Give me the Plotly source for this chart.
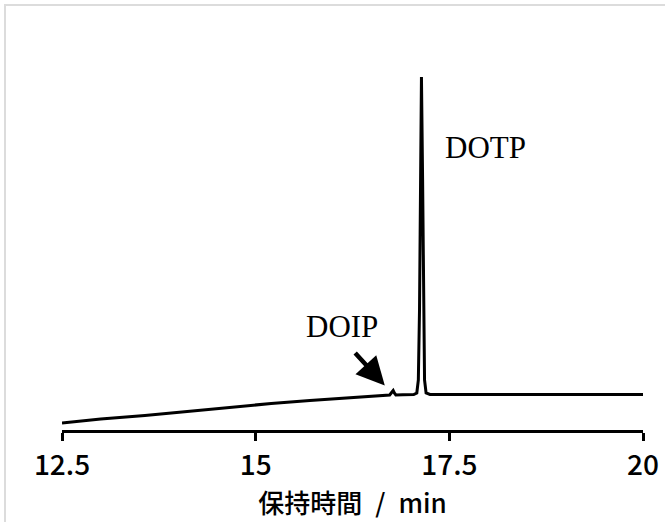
import plotly.graph_objects as go

# Chromatogram (retention time in min, relative signal)
rt = [12.5, 13.0, 13.57, 14.1, 14.66, 15.2, 15.70, 16.2, 16.5, 16.73, 16.76, 16.775, 16.79, 16.81,
      16.9, 17.04, 17.08, 17.10, 17.115, 17.125, 17.14, 17.155, 17.165, 17.18, 17.20, 17.25,
      18.0, 19.0, 20.0]
signal = [7.0, 11.0, 14.5, 18.5, 22.8, 26.5, 29.5, 32.3, 33.8, 35.0, 38.0, 39.5, 37.0, 35.0,
          35.2, 35.5, 37.0, 50.0, 120.0, 250.0, 353.0, 250.0, 120.0, 50.0, 37.0, 35.5,
          35.5, 35.5, 35.5]

tick_vals = [12.5, 15, 17.5, 20]
tick_text = ["12.5", "15", "17.5", "20"]
x_title = "保持時間\u2002/\u2002min"

peak_labels = ["DOIP", "DOTP"]
peak_label_rt = [16.12, 17.97]
peak_label_sig = [104.0, 283.0]
arrow_head = (16.667, 44.5)

fig = go.Figure()
fig.add_trace(go.Scatter(x=rt, y=signal, mode="lines",
                         line=dict(color="black", width=3), hoverinfo="skip",
                         showlegend=False))

for txt, xv, yv in zip(peak_labels, peak_label_rt, peak_label_sig):
    fig.add_annotation(x=xv, y=yv, text=txt, showarrow=False,
                       font=dict(family="Liberation Serif", size=31, color="black"))

fig.add_annotation(x=arrow_head[0], y=arrow_head[1], text="", showarrow=True,
                   ax=-31, ay=-34, arrowhead=2, arrowsize=1.25, arrowwidth=4.5,
                   arrowcolor="black", standoff=0, startstandoff=0)

fig.add_shape(type="rect", xref="paper", yref="paper",
              x0=-0.0981, y0=-2, x1=2, y1=1.1806,
              line=dict(color="#dcdcdc", width=2), fillcolor="rgba(0,0,0,0)")

fig.update_layout(
    width=665, height=522,
    margin=dict(l=62, r=22, t=70, b=92),
    paper_bgcolor="white", plot_bgcolor="white",
    font=dict(family="Noto Sans CJK JP", color="black"),
    xaxis=dict(range=[12.5, 20], tickvals=tick_vals, ticktext=tick_text,
               automargin=False,
               showgrid=False, zeroline=False, showline=True,
               linecolor="black", linewidth=3, ticks="outside", ticklen=8,
               tickwidth=3, tickcolor="black",
               tickfont=dict(family="Noto Sans CJK JP", size=28, color="black", weight=500),
               title=dict(text=x_title, standoff=0,
                          font=dict(family="Noto Sans CJK JP", size=26, color="black", weight=500))),
    yaxis=dict(range=[0, 360], visible=False, showgrid=False, zeroline=False,
               automargin=False),
)

fig.write_html("out.html", post_script="document.body.style.margin='0';",
               config={"displayModeBar": False})
